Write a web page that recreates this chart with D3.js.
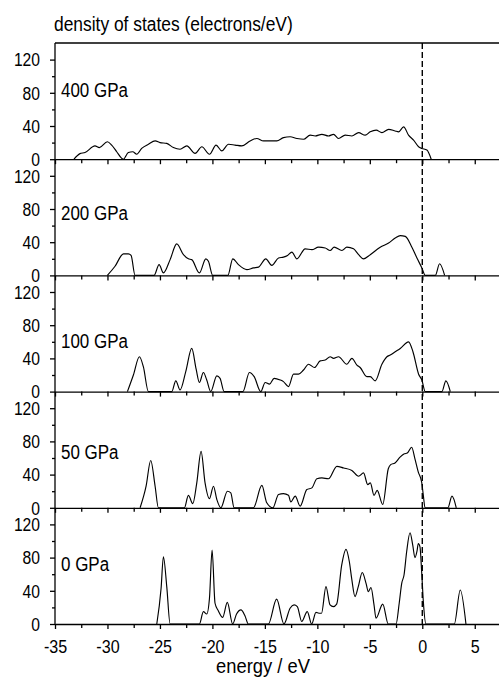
<!DOCTYPE html>
<html>
<head>
<meta charset="utf-8">
<script src="https://cdn.jsdelivr.net/npm/d3@7"></script>
<style>
  html, body { margin: 0; padding: 0; background: #fff; }
  svg { display: block; font-family: "Liberation Sans", Arial, sans-serif; }
</style>
</head>
<body>
<svg id="chart" width="499" height="679"></svg>
<script>
// Total density of states at several pressures: [energy (eV), DOS (electrons/eV)]
const pressures = ["400 GPa", "200 GPa", "100 GPa", "50 GPa", "0 GPa"];

const dos400 = [
  [-33.19,0],[-32.62,6.7],[-32.14,8],[-31.19,16],[-30.77,14],[-30.01,21],[-29.60,17],[-29.12,9],[-28.64,1],[-28.48,0],
  [-28.01,8],[-27.59,9],[-27.21,6],[-26.74,13],[-26.10,18],[-25.46,22],[-24.99,20],[-24.35,19],[-23.72,14],[-23.08,12],
  [-22.44,16],[-21.65,7],[-21.01,15],[-20.28,6],[-19.65,17],[-19.11,10],[-18.47,18],[-17.84,17],[-17.20,16],[-16.41,22],
  [-15.77,25],[-15.13,22],[-14.50,22],[-13.86,22],[-13.23,26],[-12.59,27],[-11.95,25],[-11.32,24],[-10.68,29],[-10.21,28],
  [-9.57,30],[-8.94,28],[-8.46,30],[-7.98,25],[-7.35,29],[-6.71,28],[-6.07,32],[-5.44,29],[-4.96,33],[-4.39,35],
  [-3.85,32],[-3.21,36],[-2.58,34],[-2.26,33],[-1.78,39],[-1.31,29],[-0.83,23],[-0.35,15],[-0.04,13],[0.44,11],[0.85,0]
];

const dos200 = [
  [-30.01,0],[-29.28,11],[-28.48,26],[-28.01,26],[-27.75,24],[-27.37,0],
  [-25.56,0],[-25.08,13],[-24.67,3],[-24.03,19],[-23.40,38],[-22.76,25],[-22.29,20],[-21.97,19],[-21.24,3],[-20.63,20],[-20.38,17],[-19.97,0],
  [-18.53,0],[-18.06,20],[-17.52,13],[-16.72,7],[-16.09,9],[-15.61,10],[-14.91,20],[-14.34,12],[-13.70,21],[-13.23,22],
  [-12.84,24],[-12.43,28],[-11.95,20],[-11.16,32],[-10.52,31],[-9.89,34],[-9.25,33],[-8.78,30],[-8.40,34],[-7.66,30],
  [-7.19,34],[-6.55,32],[-6.07,25],[-5.60,20],[-4.96,25],[-4.01,34],[-3.21,39],[-2.58,45],[-2.10,48],[-1.62,47],
  [-0.99,34],[-0.51,21],[-0.04,9],[0.28,0],
  [1.24,0],[1.65,14],[2.13,0]
];

const dos100 = [
  [-28.10,0],[-27.53,20],[-26.96,42],[-26.58,30],[-26.10,0],
  [-23.87,0],[-23.49,13],[-23.08,2],[-22.54,24],[-21.97,52],[-21.55,27],[-21.24,11],[-20.86,23],[-20.54,14],[-20.16,0],
  [-19.58,19],[-19.27,16],[-18.88,0],
  [-17.10,0],[-16.47,23],[-16.02,18],[-15.39,0],[-14.97,11],[-14.56,9],[-14.12,16],[-13.54,14],[-13.23,12],[-12.75,6],
  [-12.27,21],[-11.80,21],[-11.32,26],[-10.84,33],[-10.27,29],[-9.73,37],[-9.25,38],[-8.78,42],[-8.46,40],[-7.98,42],
  [-7.19,33],[-6.71,40],[-6.23,32],[-5.92,29],[-5.28,18],[-4.96,18],[-4.49,13],[-3.85,33],[-3.37,42],[-3.05,44],
  [-2.58,48],[-2.10,52],[-1.31,60],[-0.89,48],[-0.35,21],[-0.04,14],[0.28,0],
  [1.87,0],[2.25,13],[2.67,0]
];

const dos50 = [
  [-26.89,0],[-26.32,26],[-25.88,57],[-25.46,26],[-25.15,0],
  [-22.67,0],[-22.29,15],[-21.87,5],[-21.49,30],[-21.08,68],[-20.70,30],[-20.28,11],[-19.90,26],[-19.58,10],[-19.20,0],
  [-18.57,20],[-18.25,18],[-17.93,0],
  [-16.09,0],[-15.29,27],[-14.82,6],[-14.24,0],[-13.70,16],[-13.23,17],[-12.75,15],[-12.53,7],[-12.11,14],[-11.64,2],
  [-11.00,22],[-10.52,24],[-10.05,35],[-9.57,36],[-8.94,35],[-8.14,50],[-7.50,48],[-6.71,45],[-6.07,38],[-5.60,42],
  [-5.20,28],[-4.95,30],[-4.60,15],[-4.30,21],[-3.77,4],[-3.24,47],[-3.01,52],[-2.60,54],[-2.12,61],[-1.71,65],
  [-1.43,66],[-1.01,73],[-0.70,59],[-0.38,43],[-0.06,31],[0.10,15],[0.26,0],
  [2.44,0],[2.83,14],[3.24,0]
];

const dos0 = [
  [-25.30,0],[-24.89,43],[-24.67,81],[-24.35,45],[-24.03,0],
  [-21.24,0],[-20.86,15],[-20.54,12],[-20.28,31],[-20.03,89],[-19.75,25],[-19.44,16],[-19.02,8],[-18.58,26],[-18.07,0],
  [-17.70,12],[-17.28,17],[-16.90,10],[-16.58,0],
  [-14.67,0],[-13.88,30],[-13.18,0],[-12.60,19],[-12.22,23],[-11.91,21],[-11.49,3],[-10.96,15],[-10.54,0],
  [-10.13,14],[-9.85,13],[-9.60,13],[-9.18,45],[-8.79,23],[-8.48,21],[-8.16,24],[-7.68,71],[-7.27,90],[-6.95,75],
  [-6.73,55],[-6.41,33],[-6.10,45],[-5.72,62],[-5.36,49],[-5.14,39],[-4.89,44],[-4.60,23],[-4.41,7],[-3.77,24],[-3.24,0],
  [-2.50,0],[-2.20,25],[-1.96,49],[-1.74,59],[-1.49,87],[-1.17,110],[-0.91,95],[-0.70,80],[-0.50,88],[-0.38,97],
  [-0.22,93],[-0.06,63],[0.10,27],[0.35,0],
  [3.05,0],[3.62,41],[4.16,0]
];

const series = [dos400, dos200, dos100, dos50, dos0];

const xMajorTicks = [-35, -30, -25, -20, -15, -10, -5, 0, 5];
const xMinorTicks = [-32.5, -27.5, -22.5, -17.5, -12.5, -7.5, -2.5, 2.5];
const yMajorTicks = [0, 40, 80, 120];
const yMinorTicks = [20, 60, 100];

// ---- layout ----
const svg = d3.select("#chart");
const plotLeft = 55, plotRight = 499;
const plotTop = 43, panelH = 116.2;
const labelRise = [62, 55, 44, 49, 53];   // panel label baseline above each panel floor (px)
const SX = 0.87;                          // horizontal squeeze of the typeface
const plainNumber = d => String(d);       // ASCII hyphen for negatives

const x = d3.scaleLinear().domain([-35, 7.31]).range([plotLeft, plotRight]);

const line = d3.line().curve(d3.curveMonotoneX);

function squeezeText(sel, dx, dy, anchor) {
  sel.attr("x", null).attr("y", null).attr("dy", null)
     .attr("text-anchor", anchor)
     .attr("transform", `translate(${dx},${dy}) scale(${SX},1)`);
}

series.forEach((data, i) => {
  const y0 = plotTop + (i + 1) * panelH;
  const y = d3.scaleLinear().domain([0, 140]).range([y0, plotTop + i * panelH]);
  const g = svg.append("g");

  // DOS curve
  g.append("path")
    .datum(data)
    .attr("fill", "none")
    .attr("stroke", "#000")
    .attr("stroke-width", 1.15)
    .attr("stroke-linejoin", "round")
    .attr("d", line.x(d => x(d[0])).y(d => y(d[1])));

  // y axis ticks
  const yMaj = g.append("g").attr("transform", `translate(${plotLeft},0)`)
    .call(d3.axisLeft(y).tickValues(yMajorTicks).tickSize(5).tickSizeOuter(0).tickFormat(plainNumber));
  yMaj.select(".domain").remove();
  yMaj.selectAll("text").attr("font-size", 18).attr("fill", "#000")
    .call(squeezeText, -15, 6.3, "end");
  const yMin = g.append("g").attr("transform", `translate(${plotLeft},0)`)
    .call(d3.axisLeft(y).tickValues(yMinorTicks).tickSize(3).tickFormat(""));
  yMin.select(".domain").remove();

  // x axis along panel floor
  const xMaj = g.append("g").attr("transform", `translate(0,${y0})`)
    .call(d3.axisBottom(x).tickValues(xMajorTicks).tickSize(5).tickSizeOuter(0)
      .tickFormat(i === series.length - 1 ? plainNumber : ""));
  xMaj.selectAll("text").attr("font-size", 18.5).attr("fill", "#000")
    .call(squeezeText, 0, 29, "middle");
  const xMin = g.append("g").attr("transform", `translate(0,${y0})`)
    .call(d3.axisBottom(x).tickValues(xMinorTicks).tickSize(4).tickFormat(""));
  xMin.select(".domain").remove();

  // pressure label
  g.append("text")
    .attr("font-size", 19.5)
    .attr("transform", `translate(61,${y0 - labelRise[i]}) scale(${SX},1)`)
    .text(pressures[i]);
});

svg.selectAll(".domain, .tick line").attr("stroke", "#000").attr("stroke-width", 1.3);

// left spine and top border
svg.append("line").attr("x1", plotLeft).attr("x2", plotLeft)
  .attr("y1", plotTop).attr("y2", plotTop + 5 * panelH)
  .attr("stroke", "#000").attr("stroke-width", 1.3);
svg.append("line").attr("x1", plotLeft).attr("x2", plotRight)
  .attr("y1", plotTop).attr("y2", plotTop)
  .attr("stroke", "#000").attr("stroke-width", 1.3);

// Fermi level
svg.append("line").attr("x1", x(0)).attr("x2", x(0))
  .attr("y1", plotTop).attr("y2", plotTop + 5 * panelH)
  .attr("stroke", "#000").attr("stroke-width", 1.4)
  .attr("stroke-dasharray", "6,3");

// titles
svg.append("text")
  .attr("font-size", 20)
  .attr("transform", `translate(54,31) scale(${SX},1)`)
  .text("density of states (electrons/eV)");
svg.append("text")
  .attr("font-size", 20)
  .attr("text-anchor", "middle")
  .attr("transform", `translate(263,673) scale(0.92,1)`)
  .text("energy / eV");
</script>
</body>
</html>
